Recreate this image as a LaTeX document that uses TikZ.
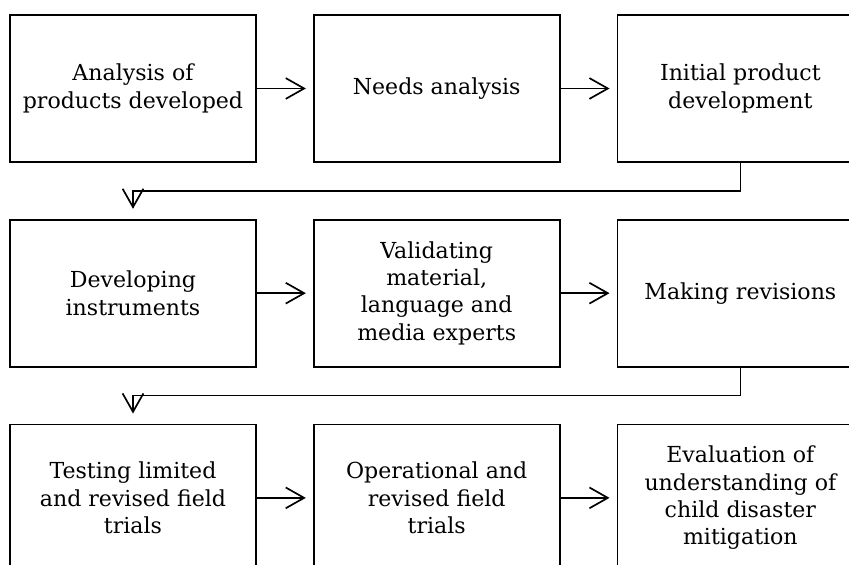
\documentclass[tikz,border=0pt]{standalone}
\usepackage{amsmath}
\usepackage{fontspec}
\setmainfont{DejaVu Serif}
\usetikzlibrary{positioning,arrows.meta}

\begin{document}
\begin{tikzpicture}[
  node distance=1.4cm,
  stage/.style={rectangle, draw, line width=1.2pt, minimum width=6.15cm, minimum height=3.675cm,
    align=center, font=\fontsize{15.7}{19.4}\selectfont},
  wire/.style={line width=1.2pt},
  flow/.style={line width=1.2pt, -{Straight Barb[length=4.6mm,width=5.2mm,line width=1.2pt]}}
]
\clip (-3.325,2.2125) rectangle (17.9,-11.9125);

\node[stage] (A) {Analysis of\\products developed};
\node[stage, right =of A] (B) {Needs analysis};
\node[stage, right =of B] (C) {Initial product\\development};
\node[stage, below =of A] (D) {Developing\\instruments};
\node[stage, right =of D] (E) {Validating\\material,\\language and\\media experts};
\node[stage, right =of E] (F) {Making revisions};
\node[stage, below =of D] (G) {Testing limited\\and revised field\\trials};
\node[stage, right =of G] (H) {Operational and\\revised field\\trials};
\node[stage, right =of H] (I) {Evaluation of\\understanding of\\child disaster\\mitigation};

\draw[flow, shorten >=0.175cm] (A) -- (B);
\draw[flow, shorten >=0.175cm] (B) -- (C);
\draw[wire] (C.south) -- ++(0,-0.7) -| ([yshift=0.7cm]D.north) coordinate (d1);
\draw[flow, shorten >=0.25cm] (d1) -- (D.north);
\draw[flow, shorten >=0.175cm] (D) -- (E);
\draw[flow, shorten >=0.175cm] (E) -- (F);
\draw[wire] (F.south) -- ++(0,-0.7) -| ([yshift=0.7cm]G.north) coordinate (g1);
\draw[flow, shorten >=0.25cm] (g1) -- (G.north);
\draw[flow, shorten >=0.175cm] (G) -- (H);
\draw[flow, shorten >=0.175cm] (H) -- (I);

\end{tikzpicture}
\end{document}
